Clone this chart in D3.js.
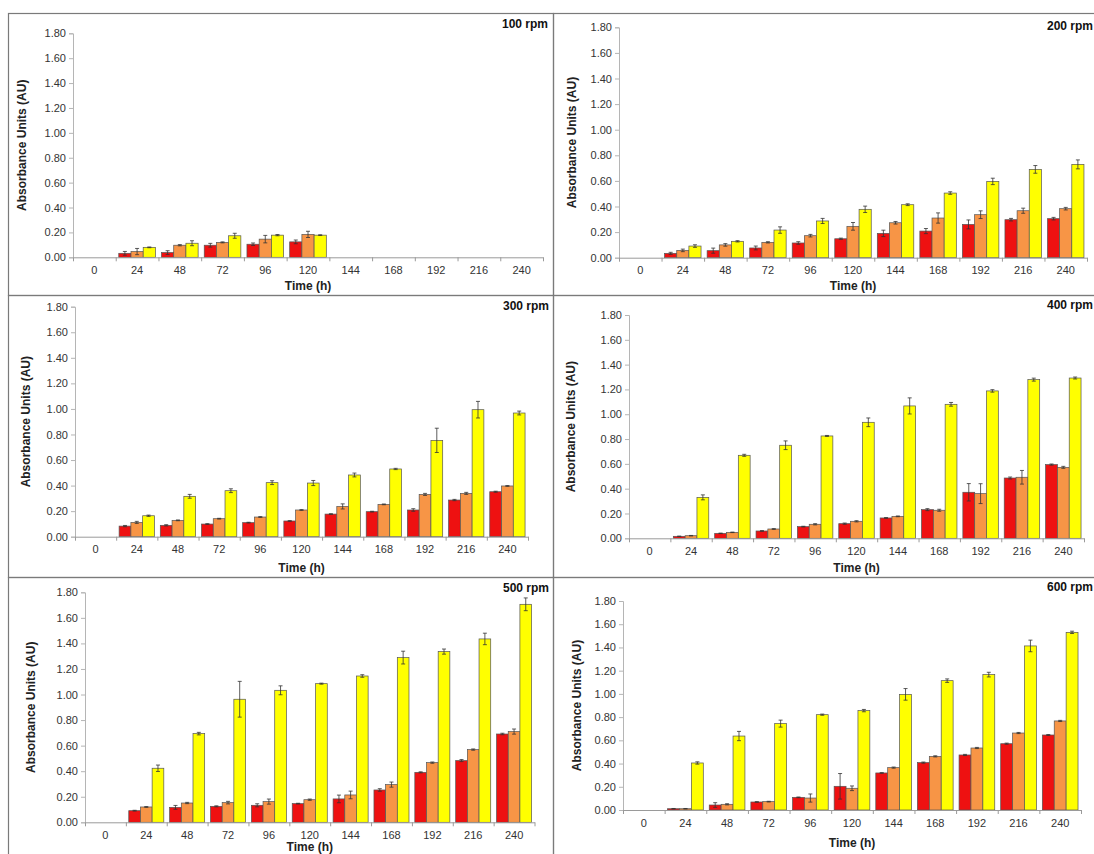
<!DOCTYPE html>
<html>
<head>
<meta charset="utf-8">
<script src="https://cdn.jsdelivr.net/npm/d3@7"></script>
<style>
  html, body { margin: 0; padding: 0; background: #fff; }
  svg { display: block; }
  text { font-family: "Liberation Sans", Arial, sans-serif; }
</style>
</head>
<body>
<svg id="chart" width="1094" height="854"></svg>
<script>
// ---------- DATA ----------
const categories = ["0","24","48","72","96","120","144","168","192","216","240"];
const yTicks = [0, 0.2, 0.4, 0.6, 0.8, 1.0, 1.2, 1.4, 1.6, 1.8];
const panelLabels = ["100 rpm","200 rpm","300 rpm","400 rpm","500 rpm","600 rpm"];
const xTitle = "Time (h)";
const yTitle = "Absorbance Units (AU)";
const seriesNames = ["red", "orange", "yellow"];

// 100 rpm
const red100 = [null,0.032,0.038,0.097,0.105,0.124,null,null,null,null,null];
const redErr100 = [null,0.015,0.015,0.015,0.010,0.015,null,null,null,null,null];
const orange100 = [null,0.046,0.097,0.120,0.146,0.184,null,null,null,null,null];
const orangeErr100 = [null,0.025,0.005,0.004,0.030,0.025,null,null,null,null,null];
const yellow100 = [null,0.080,0.113,0.173,0.178,0.178,null,null,null,null,null];
const yellowErr100 = [null,0.003,0.020,0.020,0.005,0.003,null,null,null,null,null];

// 200 rpm
const red200 = [null,0.034,0.055,0.076,0.115,0.148,0.190,0.208,0.260,0.297,0.305];
const redErr200 = [null,0.008,0.020,0.015,0.010,0.005,0.025,0.020,0.035,0.010,0.010];
const orange200 = [null,0.057,0.100,0.120,0.172,0.245,0.273,0.310,0.336,0.367,0.383];
const orangeErr200 = [null,0.010,0.010,0.005,0.010,0.030,0.010,0.040,0.030,0.020,0.010];
const yellow200 = [null,0.091,0.128,0.216,0.287,0.378,0.414,0.505,0.596,0.690,0.729];
const yellowErr200 = [null,0.010,0.005,0.025,0.020,0.025,0.007,0.010,0.025,0.030,0.035];

// 300 rpm
const red300 = [null,0.083,0.089,0.099,0.110,0.123,0.177,0.196,0.209,0.287,0.352];
const redErr300 = [null,0.005,0.005,0.003,0.003,0.003,0.003,0.003,0.010,0.005,0.004];
const orange300 = [null,0.112,0.128,0.141,0.154,0.209,0.237,0.253,0.331,0.339,0.397];
const orangeErr300 = [null,0.008,0.003,0.003,0.003,0.003,0.020,0.003,0.008,0.008,0.003];
const yellow300 = [null,0.164,0.316,0.360,0.423,0.420,0.483,0.530,0.754,0.994,0.968];
const yellowErr300 = [null,0.005,0.015,0.015,0.015,0.020,0.015,0.005,0.095,0.065,0.015];

// 400 rpm
const red400 = [null,0.016,0.040,0.059,0.094,0.118,0.164,0.231,0.371,0.486,0.594];
const redErr400 = [null,0.002,0.002,0.003,0.003,0.005,0.003,0.008,0.070,0.008,0.005];
const orange400 = [null,0.021,0.048,0.075,0.113,0.137,0.177,0.226,0.360,0.492,0.572];
const orangeErr400 = [null,0.002,0.002,0.003,0.005,0.005,0.003,0.008,0.080,0.055,0.008];
const yellow400 = [null,0.330,0.669,0.750,0.825,0.935,1.067,1.080,1.188,1.279,1.292];
const yellowErr400 = [null,0.020,0.008,0.035,0.004,0.035,0.065,0.015,0.010,0.012,0.008];

// 500 rpm
const red500 = [null,0.091,0.117,0.125,0.133,0.146,0.183,0.253,0.391,0.483,0.691];
const redErr500 = [null,0.003,0.015,0.004,0.012,0.003,0.030,0.010,0.004,0.008,0.006];
const orange500 = [null,0.120,0.151,0.154,0.162,0.177,0.214,0.295,0.467,0.569,0.710];
const orangeErr500 = [null,0.003,0.005,0.010,0.020,0.005,0.030,0.020,0.005,0.005,0.020];
const yellow500 = [null,0.423,0.694,0.963,1.033,1.085,1.145,1.289,1.336,1.435,1.706];
const yellowErr500 = [null,0.025,0.010,0.140,0.035,0.004,0.010,0.050,0.020,0.045,0.050];

// 600 rpm
const red600 = [null,0.011,0.043,0.069,0.109,0.204,0.319,0.408,0.474,0.571,0.646];
const redErr600 = [null,0.002,0.020,0.003,0.003,0.110,0.003,0.005,0.005,0.005,0.004];
const orange600 = [null,0.011,0.049,0.072,0.103,0.187,0.365,0.462,0.534,0.663,0.767];
const orangeErr600 = [null,0.002,0.005,0.003,0.035,0.020,0.005,0.005,0.005,0.005,0.005];
const yellow600 = [null,0.405,0.637,0.744,0.821,0.856,0.996,1.114,1.166,1.413,1.530];
const yellowErr600 = [null,0.010,0.040,0.030,0.005,0.010,0.050,0.015,0.020,0.050,0.010];

// ---------- LAYOUT / STYLE ----------
const colors = { red: "#ee1111", orange: "#f79546", yellow: "#ffff00" };

const panels = [
  { label: panelLabels[0], values: [red100, orange100, yellow100], errs: [redErr100, orangeErr100, yellowErr100],
    frame: [8, 13, 553, 295], x0: 73, x1: 543, yTop: 33.3, yBot: 257.3, ytx: 22, xty: 290, lblX: 548, lblY: 28 },
  { label: panelLabels[1], values: [red200, orange200, yellow200], errs: [redErr200, orangeErr200, yellowErr200],
    frame: [553, 13, 1100, 295], x0: 619, x1: 1087, yTop: 27.3, yBot: 257.7, ytx: 572, xty: 290, lblX: 1093, lblY: 30 },
  { label: panelLabels[2], values: [red300, orange300, yellow300], errs: [redErr300, orangeErr300, yellowErr300],
    frame: [8, 295, 553, 577], x0: 75, x1: 528, yTop: 306.7, yBot: 536.7, ytx: 26, xty: 572, lblX: 549, lblY: 310 },
  { label: panelLabels[3], values: [red400, orange400, yellow400], errs: [redErr400, orangeErr400, yellowErr400],
    frame: [553, 295, 1100, 577], x0: 629, x1: 1084, yTop: 315, yBot: 538.3, ytx: 571, xty: 572, lblX: 1093, lblY: 309 },
  { label: panelLabels[4], values: [red500, orange500, yellow500], errs: [redErr500, orangeErr500, yellowErr500],
    frame: [8, 577, 553, 860], x0: 85, x1: 534.5, yTop: 592.3, yBot: 822.3, ytx: 31, xty: 851, lblX: 549, lblY: 592 },
  { label: panelLabels[5], values: [red600, orange600, yellow600], errs: [redErr600, orangeErr600, yellowErr600],
    frame: [553, 577, 1100, 860], x0: 623, x1: 1081, yTop: 601, yBot: 810, ytx: 577, xty: 847, lblX: 1093, lblY: 591 }
];

const svg = d3.select("#chart");
svg.append("rect").attr("width", 1094).attr("height", 854).attr("fill", "#fff");

panels.forEach(p => {
  const g = svg.append("g");
  const [fx0, fy0, fx1, fy1] = p.frame;
  g.append("rect")
    .attr("x", fx0 + 0.5).attr("y", fy0 + 0.5)
    .attr("width", fx1 - fx0).attr("height", fy1 - fy0)
    .attr("fill", "none").attr("stroke", "#7a7a7a").attr("stroke-width", 1.2);

  const x = d3.scaleBand().domain(categories).range([p.x0, p.x1]).paddingInner(0).paddingOuter(0);
  const xs = d3.scaleBand().domain(seriesNames).range([0, x.bandwidth()]).paddingOuter(0.25).paddingInner(0);
  const y = d3.scaleLinear().domain([0, 1.8]).range([p.yBot, p.yTop]);

  // Y axis
  const ya = g.append("g").attr("transform", `translate(${p.x0},0)`)
    .call(d3.axisLeft(y).tickValues(yTicks).tickFormat(d3.format(".2f")).tickSize(4).tickPadding(3));
  ya.select(".domain").attr("stroke", "#b5b5b5");
  ya.selectAll(".tick line").attr("stroke", "#b5b5b5");
  ya.selectAll(".tick text").attr("fill", "#333").style("font-size", "11px")
    .style("font-family", "'Liberation Sans', Arial, sans-serif");

  // Bars
  seriesNames.forEach((s, si) => {
    const vals = p.values[si];
    const errs = p.errs[si];
    const data = categories.map((c, i) => ({ c, v: vals[i], e: errs[i] })).filter(d => d.v != null);
    g.selectAll(null).data(data).enter().append("rect")
      .attr("x", d => x(d.c) + xs(s))
      .attr("y", d => y(d.v))
      .attr("width", xs.bandwidth())
      .attr("height", d => y(0) - y(d.v))
      .attr("fill", colors[s])
      .attr("stroke", "#555")
      .attr("stroke-width", 0.7);
    // error bars
    const eg = g.selectAll(null).data(data.filter(d => d.e != null)).enter().append("g")
      .attr("stroke", "#333").attr("stroke-width", 0.8);
    const cx = d => x(d.c) + xs(s) + xs.bandwidth() / 2;
    eg.append("line").attr("x1", cx).attr("x2", cx)
      .attr("y1", d => y(d.v + d.e)).attr("y2", d => y(Math.max(0, d.v - d.e)));
    eg.append("line").attr("x1", d => cx(d) - 2).attr("x2", d => cx(d) + 2)
      .attr("y1", d => y(d.v + d.e)).attr("y2", d => y(d.v + d.e));
    eg.append("line").attr("x1", d => cx(d) - 2).attr("x2", d => cx(d) + 2)
      .attr("y1", d => y(Math.max(0, d.v - d.e))).attr("y2", d => y(Math.max(0, d.v - d.e)));
  });

  // X axis: labels and boundary ticks
  const xa = g.append("g").attr("transform", `translate(0,${p.yBot})`)
    .call(d3.axisBottom(x).tickSize(0).tickPadding(9));
  xa.select(".domain").attr("stroke", "#9a9a9a");
  xa.selectAll(".tick text").attr("fill", "#333").style("font-size", "11px")
    .style("font-family", "'Liberation Sans', Arial, sans-serif");
  const bnd = d3.scaleLinear().domain([0, categories.length]).range([p.x0, p.x1]);
  const xb = g.append("g").attr("transform", `translate(0,${p.yBot})`)
    .call(d3.axisBottom(bnd).tickValues(d3.range(categories.length + 1)).tickFormat("").tickSize(4));
  xb.select(".domain").remove();
  xb.selectAll(".tick line").attr("stroke", "#9a9a9a");

  // Titles
  g.append("text").attr("x", (p.x0 + p.x1) / 2).attr("y", p.xty)
    .attr("text-anchor", "middle").attr("font-weight", "bold").attr("font-size", 12).attr("fill", "#222")
    .text(xTitle);
  g.append("text")
    .attr("transform", `translate(${p.ytx + 4},${(p.yTop + p.yBot) / 2}) rotate(-90)`)
    .attr("text-anchor", "middle").attr("font-weight", "bold").attr("font-size", 12).attr("fill", "#222")
    .text(yTitle);
  g.append("text").attr("x", p.lblX).attr("y", p.lblY)
    .attr("text-anchor", "end").attr("font-weight", "bold").attr("font-size", 12).attr("fill", "#111")
    .text(p.label);
});
</script>
</body>
</html>
